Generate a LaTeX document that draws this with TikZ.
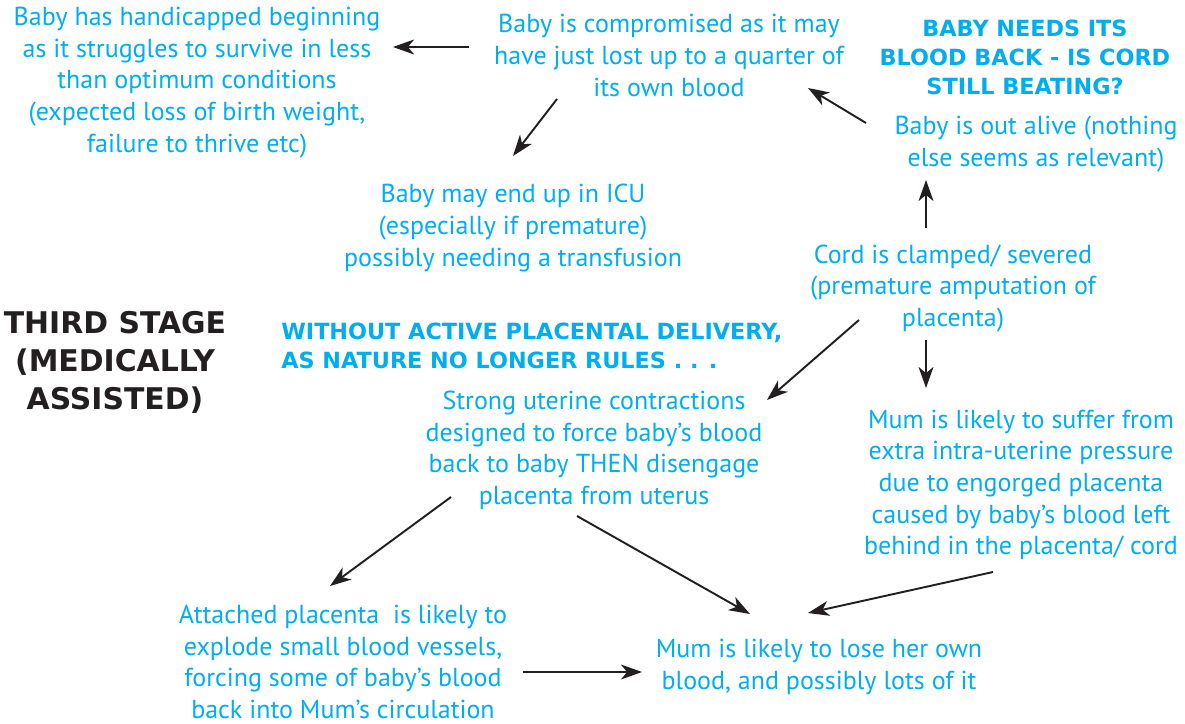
\documentclass[tikz,border=0pt]{standalone}
\usepackage{fontspec}
\setmainfont{PT Sans}
\newfontfamily\hdfont{DejaVu Sans}
\usetikzlibrary{arrows.meta}
\definecolor{txtblue}{RGB}{0,174,239}
\definecolor{ink}{RGB}{35,31,32}
\tikzset{
  body/.style={text=txtblue, align=center, inner sep=0pt, font=\fontsize{14.8}{18}\selectfont},
  bhead/.style={text=txtblue, inner sep=0pt, font=\hdfont\bfseries\fontsize{12.7}{16.5}\selectfont},
  khead/.style={text=ink, align=center, inner sep=0pt, font=\hdfont\bfseries\fontsize{17}{21.6}\selectfont},
  arr/.style={draw=ink, line width=1.1pt, -{Stealth[length=12pt,width=8.5pt,inset=3.5pt]}}
}
\begin{document}
\begin{tikzpicture}[x=0.02cm,y=-0.02cm]
\useasboundingbox (0,0) rectangle (1185,723);
\node[body] (n1) at (197,82.5) {Baby has handicapped beginning\\as it struggles to survive in less\\than optimum conditions\\(expected loss of birth weight,\\failure to thrive etc)};
\node[body] (n2) at (669,55.5) {Baby is compromised as it may\\have just lost up to a quarter of\\its own blood};
\node[bhead, align=center] (h1) at (1025,57.5) {BABY NEEDS ITS\\BLOOD BACK - IS CORD\\STILL BEATING?};
\node[body] (n4) at (1036,144) {Baby is out alive (nothing\\else seems as relevant)};
\node[body] (n5) at (513,228) {Baby may end up in ICU\\(especially if premature)\\possibly needing a transfusion};
\node[body] (n6) at (953,288.5) {Cord is clamped/ severed\\(premature amputation of\\placenta)};
\node[khead] (h0) at (115,362) {THIRD STAGE\\(MEDICALLY\\ASSISTED)};
\node[bhead, align=left, anchor=west] (h2) at (281,346) {WITHOUT ACTIVE PLACENTAL DELIVERY,\\AS NATURE NO LONGER RULES . . .};
\node[body] (n9) at (594,450.5) {Strong uterine contractions\\designed to force baby’s blood\\back to baby THEN disengage\\placenta from uterus};
\node[body] (n10) at (1021,485) {Mum is likely to suffer from\\extra intra-uterine pressure\\due to engorged placenta\\caused by baby’s blood left\\behind in the placenta/ cord};
\node[body] (n11) at (343,662) {Attached placenta\ \ is likely to\\explode small blood vessels,\\forcing some of baby’s blood\\back into Mum’s circulation};
\node[body] (n12) at (819,667) {Mum is likely to lose her own\\blood, and possibly lots of it};
\draw[arr] ([shift={(-200,-8.5)}]n2.center) -- ([shift={(196,-35.5)}]n1.center);
\draw[arr] ([shift={(-112,43.5)}]n2.center) -- ([shift={(0,-72)}]n5.center);
\draw[arr] ([shift={(-170,-21)}]n4.center) -- ([shift={(139,32.5)}]n2.center);
\draw[arr] ([shift={(-27,-60.5)}]n6.center) -- ([shift={(-110,36)}]n4.center);
\draw[arr] ([shift={(-94,31.5)}]n6.center) -- ([shift={(173,-50.5)}]n9.center);
\draw[arr] ([shift={(-27,51.5)}]n6.center) -- ([shift={(-95,-97)}]n10.center);
\draw[arr] ([shift={(-143,46.5)}]n9.center) -- ([shift={(-13,-76)}]n11.center);
\draw[arr] ([shift={(-17,65.5)}]n9.center) -- ([shift={(-69,-53)}]n12.center);
\draw[arr] ([shift={(-28,87)}]n10.center) -- ([shift={(-11,-54)}]n12.center);
\draw[arr] ([shift={(180,10)}]n11.center) -- ([shift={(-177,5)}]n12.center);
\end{tikzpicture}
\end{document}
